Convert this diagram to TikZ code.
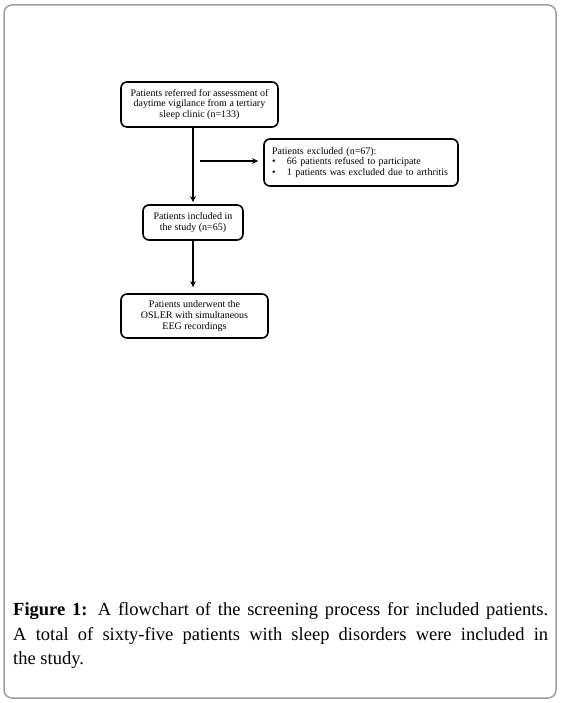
\documentclass[tikz,border=0pt]{standalone}
\usepackage{fontspec}
\setmainfont{Liberation Serif}
\usetikzlibrary{arrows.meta}
\begin{document}
\begin{tikzpicture}[x=1pt,y=-1pt,
 box/.style={draw, line width=1.6pt, rounded corners=6pt, inner sep=0pt, font=\fontsize{10}{10.8}\selectfont, align=center},
 arr/.style={-{Stealth[length=6pt,width=5.5pt]}, line width=1.1pt},
 captext/.style={anchor=base west, inner sep=0pt, font=\fontsize{18.5}{24.5}\selectfont}]
\useasboundingbox (0,0) rectangle (561,703);
\draw[black!38, line width=1.5pt, rounded corners=8pt] (4,5) rectangle (556,698);
\node[box, minimum width=157pt, minimum height=45pt] (b1) at (199.5,104.5)
  {Patients referred for assessment of\\daytime vigilance from a tertiary\\sleep clinic (n=133)};
\node[box, minimum width=194pt, minimum height=47pt, text width=178pt, align=left, inner xsep=8pt] (b3) at (361,162.5)
  {Patients excluded (n=67):\\\makebox[15pt][l]{•}66 patients refused to participate\\\makebox[15pt][l]{•}1 patients was excluded due to arthritis};
\node[box, minimum width=100pt, minimum height=35pt] (b2) at (193,222.5)
  {Patients included in\\the study (n=65)};
\node[box, minimum width=147pt, minimum height=44pt] (b4) at (194.5,316)
  {Patients underwent the\\OSLER with simultaneous\\EEG recordings};
\coordinate (hs) at (200,161);
\draw[arr, shorten >=2pt] (b1.south -| b2.north) -- (b2.north);
\draw[arr, shorten >=5pt] (hs) -- (hs -| b3.west);
\draw[arr, shorten >=6pt] (b2.south) -- (b2.south |- b4.north);
\node[captext] (c1) at (13,615) {\makebox[535pt][s]{\textbf{Figure 1:} A flowchart of the screening process for included patients.}};
\node[captext] (c2) at (13,640) {\makebox[535pt][s]{A total of sixty-five patients with sleep disorders were included in}};
\node[captext] (c3) at (13,664.5) {the study.};
\end{tikzpicture}
\end{document}
